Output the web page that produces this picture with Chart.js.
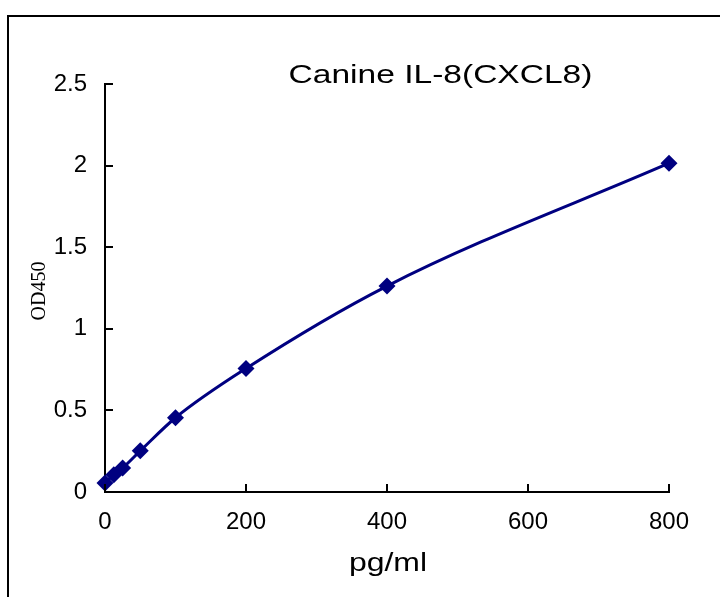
<!DOCTYPE html>
<html><head><meta charset="utf-8">
<script src="https://cdn.jsdelivr.net/npm/chart.js@4/dist/chart.umd.min.js"></script>
<style>html,body{margin:0;padding:0;background:#fff}#wrap{width:720px;height:597px;position:relative;overflow:hidden}</style>
</head><body><div id="wrap"><canvas id="c" width="720" height="597"></canvas></div>
<script>
const concentrations = [0, 12.5, 25, 50, 100, 200, 400, 800];
const odValues = [0.055, 0.105, 0.147, 0.252, 0.455, 0.757, 1.262, 2.015];
const xTicks = [0, 200, 400, 600, 800];
const yTicks = [0, 0.5, 1, 1.5, 2, 2.5];
const chartTitle = 'Canine IL-8(CXCL8)';
const xTitle = 'pg/ml';
const yTitle = 'OD450';

const NAVY = '#000080';

function stretchText(ctx, text, x, y, font, sx, rot) {
  ctx.save();
  ctx.translate(x, y);
  if (rot) ctx.rotate(rot);
  ctx.scale(sx, 1);
  ctx.font = font;
  ctx.fillStyle = '#000';
  ctx.textAlign = 'center';
  ctx.textBaseline = 'alphabetic';
  ctx.fillText(text, 0, 0);
  ctx.restore();
}

const decor = {
  id: 'decor',
  afterDraw(chart) {
    const ctx = chart.ctx;
    const xs = chart.scales.x, ys = chart.scales.y;
    ctx.save();
    ctx.strokeStyle = '#000';
    ctx.lineWidth = 2;
    ctx.strokeRect(8, 16, 800, 700);
    ctx.beginPath();
    yTicks.forEach(v => {
      const py = Math.round(ys.getPixelForValue(v));
      ctx.moveTo(xs.left, py);
      ctx.lineTo(xs.left + 8, py);
    });
    xTicks.forEach(v => {
      const px = Math.round(xs.getPixelForValue(v));
      ctx.moveTo(px, ys.bottom);
      ctx.lineTo(px, ys.bottom - 8);
    });
    ctx.stroke();
    ctx.restore();
    stretchText(ctx, chartTitle, 440.5, 83, '26px "Liberation Sans", Arial, sans-serif', 1.29);
    stretchText(ctx, xTitle, 388, 571, '26px "Liberation Sans", Arial, sans-serif', 1.23);
    stretchText(ctx, yTitle, 45, 291, '20px "Liberation Serif", "DejaVu Serif", serif', 1.0, -Math.PI / 2);
  }
};

new Chart(document.getElementById('c'), {
  type: 'scatter',
  data: {
    datasets: [{
      data: concentrations.map((c, i) => ({ x: c, y: odValues[i] })),
      showLine: true,
      borderColor: NAVY,
      backgroundColor: NAVY,
      borderWidth: 3,
      tension: 0.4,
      cubicInterpolationMode: 'monotone',
      pointStyle: 'rectRot',
      pointRadius: 8.5,
      pointHoverRadius: 8.5,
      pointBorderWidth: 0,
      clip: false
    }]
  },
  options: {
    responsive: false,
    animation: false,
    devicePixelRatio: 1,
    layout: { padding: { left: 0, top: 84, right: 51, bottom: 0 } },
    plugins: { legend: { display: false }, title: { display: false }, tooltip: { enabled: false } },
    scales: {
      x: {
        type: 'linear', min: 0, max: 800,
        afterBuildTicks: s => { s.ticks = xTicks.map(v => ({ value: v })); },
        afterFit: s => { s.height = 105; },
        grid: { display: false, drawTicks: false },
        border: { display: true, color: '#000', width: 2 },
        ticks: { color: '#000', padding: 16, maxRotation: 0, autoSkip: false,
          font: { family: '"Liberation Sans", Arial, sans-serif', size: 24 } }
      },
      y: {
        type: 'linear', min: 0, max: 2.5,
        afterBuildTicks: s => { s.ticks = yTicks.map(v => ({ value: v })); },
        afterFit: s => { s.width = 105; },
        grid: { display: false, drawTicks: false },
        border: { display: true, color: '#000', width: 2 },
        ticks: { color: '#000', padding: 18, autoSkip: false,
          callback: v => String(v),
          font: { family: '"Liberation Sans", Arial, sans-serif', size: 24 } }
      }
    }
  },
  plugins: [decor]
});
</script>
</body></html>
